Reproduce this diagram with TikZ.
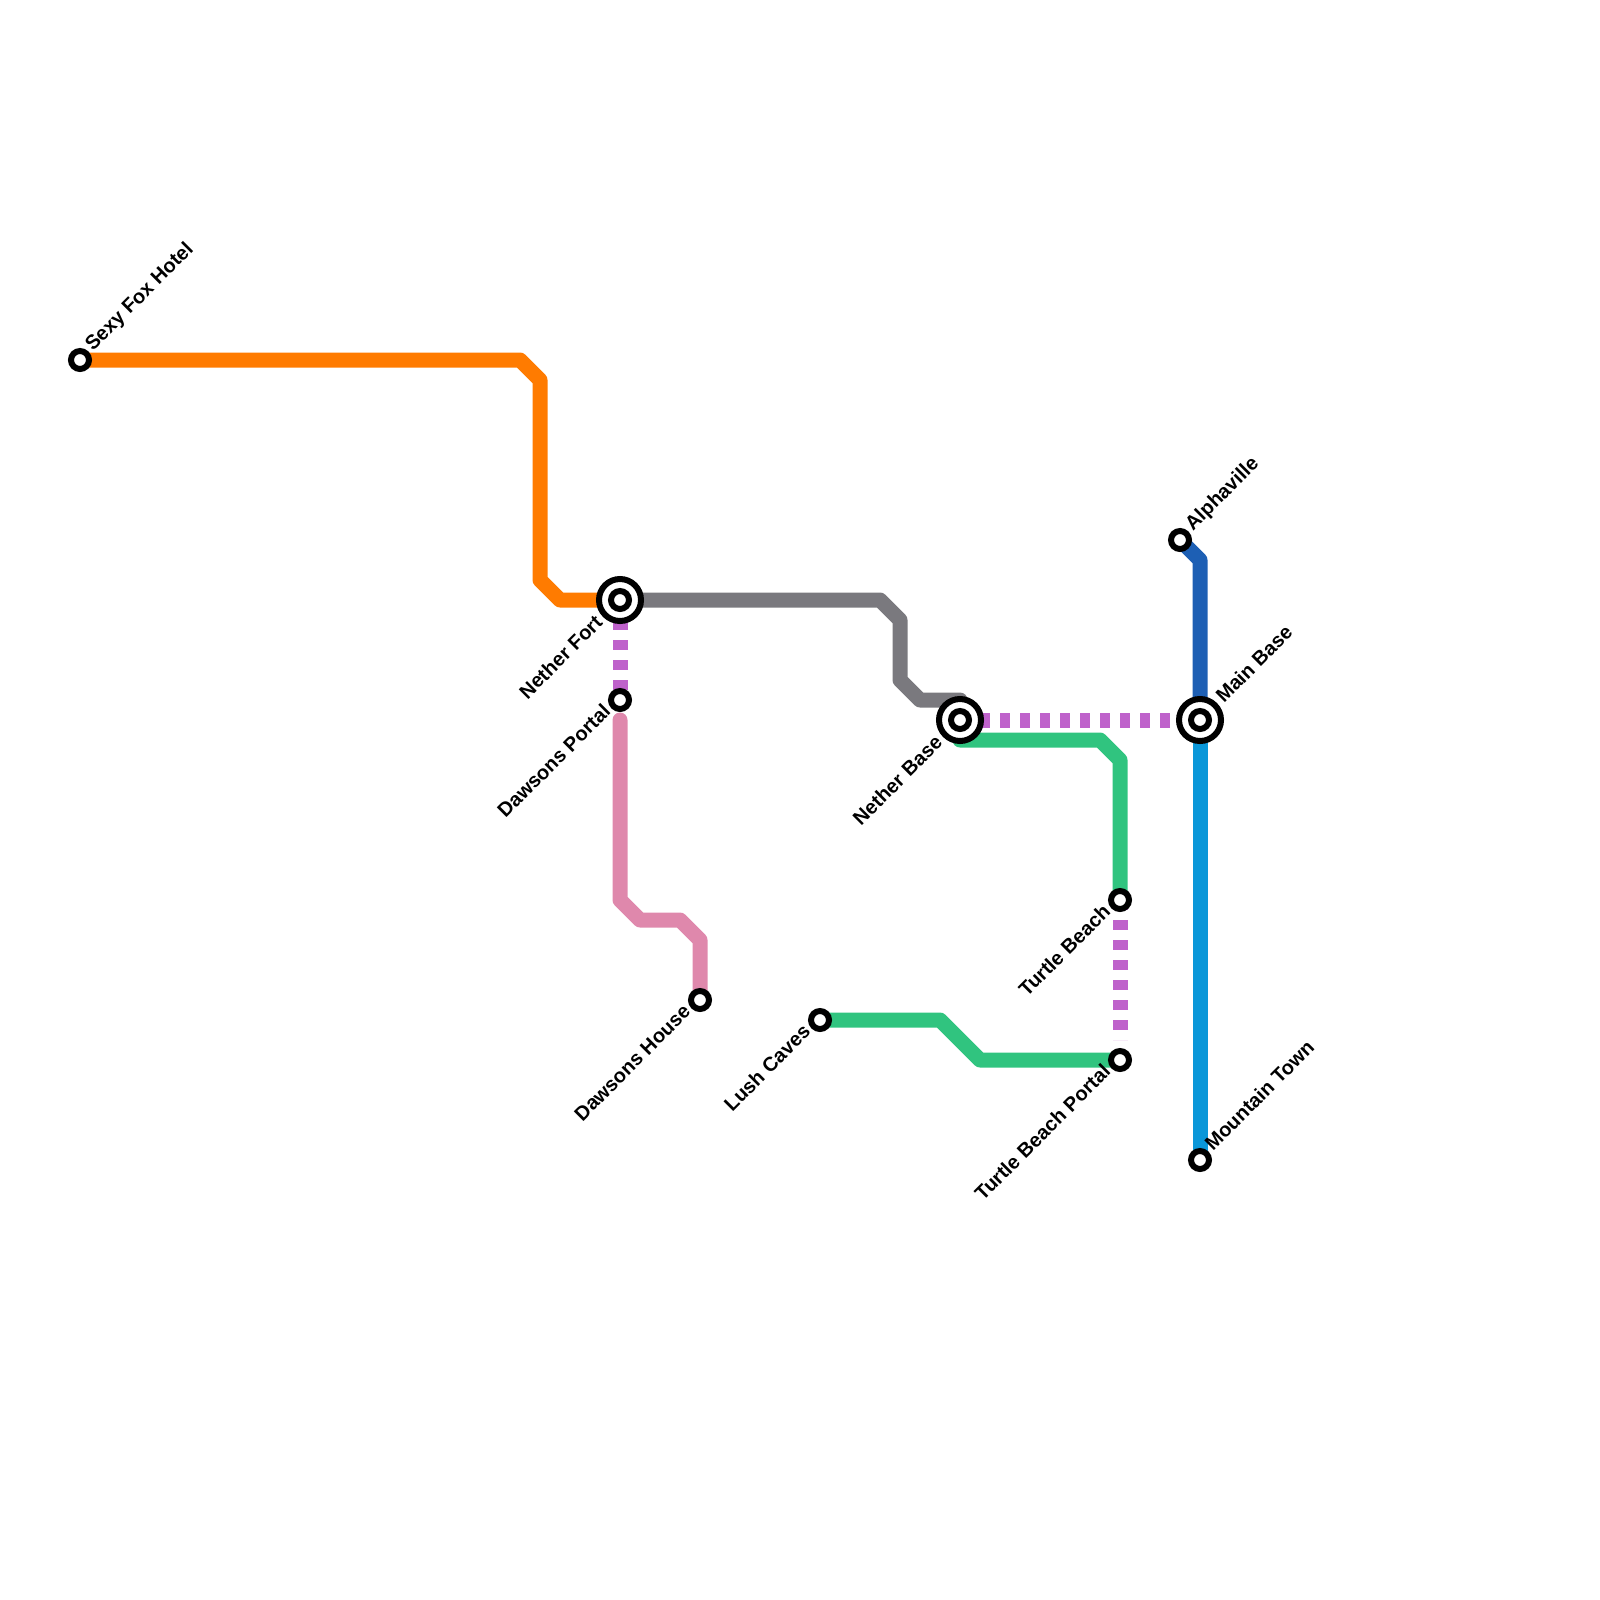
\documentclass[tikz,border=0pt]{standalone}
\usepackage{fontspec}
\setmainfont{Liberation Sans}
\usetikzlibrary{calc,backgrounds}
\definecolor{lineorange}{HTML}{FF7B00}
\definecolor{linegray}{HTML}{7A797E}
\definecolor{linepurple}{HTML}{BF62CB}
\definecolor{linepink}{HTML}{DF88AC}
\definecolor{linegreen}{HTML}{30C47F}
\definecolor{linedarkblue}{HTML}{1D5FB4}
\definecolor{linelightblue}{HTML}{0A97D9}
\tikzset{
  metro/.style = {
    line width=0.375cm,
    line cap=round,
    line join=round
  },
  transfer/.style = {
    line width=0.375cm,
    color=linepurple,
    dash pattern=on 0.25cm off 0.25cm
  },
  stop/.style = {
    circle,
    draw=black,
    fill=white,
    line width=0.15cm,
    inner sep=0pt,
    outer sep=0pt,
    minimum size=0.45cm
  },
  interchange/.style = {
    stop,
    minimum size=1.05cm
  },
  leftlabel/.style = {
    font=\bfseries\fontsize{14.2}{15}\selectfont,
    rotate=45,
    anchor=east,
    inner sep=0pt,
    text height=1.45ex,
    text depth=0pt
  },
  rightlabel/.style = {
    leftlabel,
    anchor=west
  }
}
\begin{document}
\begin{tikzpicture}[x=0.5cm,y=-0.5cm]
		\useasboundingbox (0,0) rectangle (80,80);
		\node[stop] (foxhotel) at (4,18) {};
		\node[interchange] (netherfort) at (31,30) {};
		\node[stop] (netherfortdot) at (netherfort) {};
		\node[stop] (dawsonsportal) at (31,35) {};
		\node[stop] (dawsonshouse) at (35,50) {};
		\node[interchange] (netherbase) at (48,36) {};
		\node[stop] (netherbasedot) at (netherbase) {};
		\node[interchange] (mainbase) at (60,36) {};
		\node[stop] (mainbasedot) at (mainbase) {};
		\node[stop] (alphaville) at (59,27) {};
		\node[stop] (mountaintown) at (60,58) {};
		\node[stop] (turtlebeach) at (56,45) {};
		\node[stop] (turtleportal) at (56,53) {};
		\node[stop] (lushcaves) at (41,51) {};
%
		\node[rightlabel] (lfoxhotel) at ($(foxhotel)+(0.45,-0.6)$) {Sexy Fox Hotel};
		\node[rightlabel] (lalphaville) at ($(alphaville)+(0.45,-0.6)$) {Alphaville};
		\node[rightlabel] (lmainbase) at ($(mainbase)+(1.0,-1.0)$) {Main Base};
		\node[rightlabel] (lmountaintown) at ($(mountaintown)+(0.45,-0.6)$) {Mountain Town};
		\node[leftlabel] (lnetherfort) at ($(netherfort)+(-1.0,1.0)$) {Nether Fort};
		\node[leftlabel] (ldawsonsportal) at ($(dawsonsportal)+(-0.6,0.45)$) {Dawsons Portal};
		\node[leftlabel] (ldawsonshouse) at ($(dawsonshouse)+(-0.6,0.45)$) {Dawsons House};
		\node[leftlabel] (lnetherbase) at ($(netherbase)+(-1.0,1.0)$) {Nether Base};
		\node[leftlabel] (lturtlebeach) at ($(turtlebeach)+(-0.6,0.45)$) {Turtle Beach};
		\node[leftlabel] (lturtleportal) at ($(turtleportal)+(-0.6,0.45)$) {Turtle Beach Portal};
		\node[leftlabel] (llushcaves) at ($(lushcaves)+(-0.6,0.45)$) {Lush Caves};
%
		\begin{scope}[on background layer]
		\draw[metro, lineorange] (foxhotel.center) -- (26,18) -- (27,19) -- (27,29) -- (28,30) -- (netherfort.center);
		\draw[metro, linegray] (netherfort.center) -- (44,30) -- (45,31) -- (45,34) -- (46,35) -- ($(netherbase.center)+(0,-1)$);
		\draw[metro, linepink] ($(dawsonsportal.center)+(0,1)$) -- (31,45) -- (32,46) -- (34,46) -- (35,47) -- (dawsonshouse.center);
		\draw[metro, linegreen] ($(netherbase.center)+(0,1)$) -- (55,37) -- (56,38) -- (turtlebeach.center);
		\draw[metro, linegreen] (lushcaves.center) -- (47,51) -- (49,53) -- (turtleportal.center);
		\draw[metro, linedarkblue] (alphaville.center) -- (60,28) -- (mainbase.center);
		\draw[metro, linelightblue] (mainbase.center) -- (mountaintown.center);
		\draw[transfer] (netherfort.center) -- (dawsonsportal.center);
		\draw[transfer] (netherbase.center) -- (mainbase.center);
		\draw[transfer, shorten >=0.5cm] (turtlebeach.center) -- (turtleportal.center);
		\end{scope}
	\end{tikzpicture}
\end{document}
